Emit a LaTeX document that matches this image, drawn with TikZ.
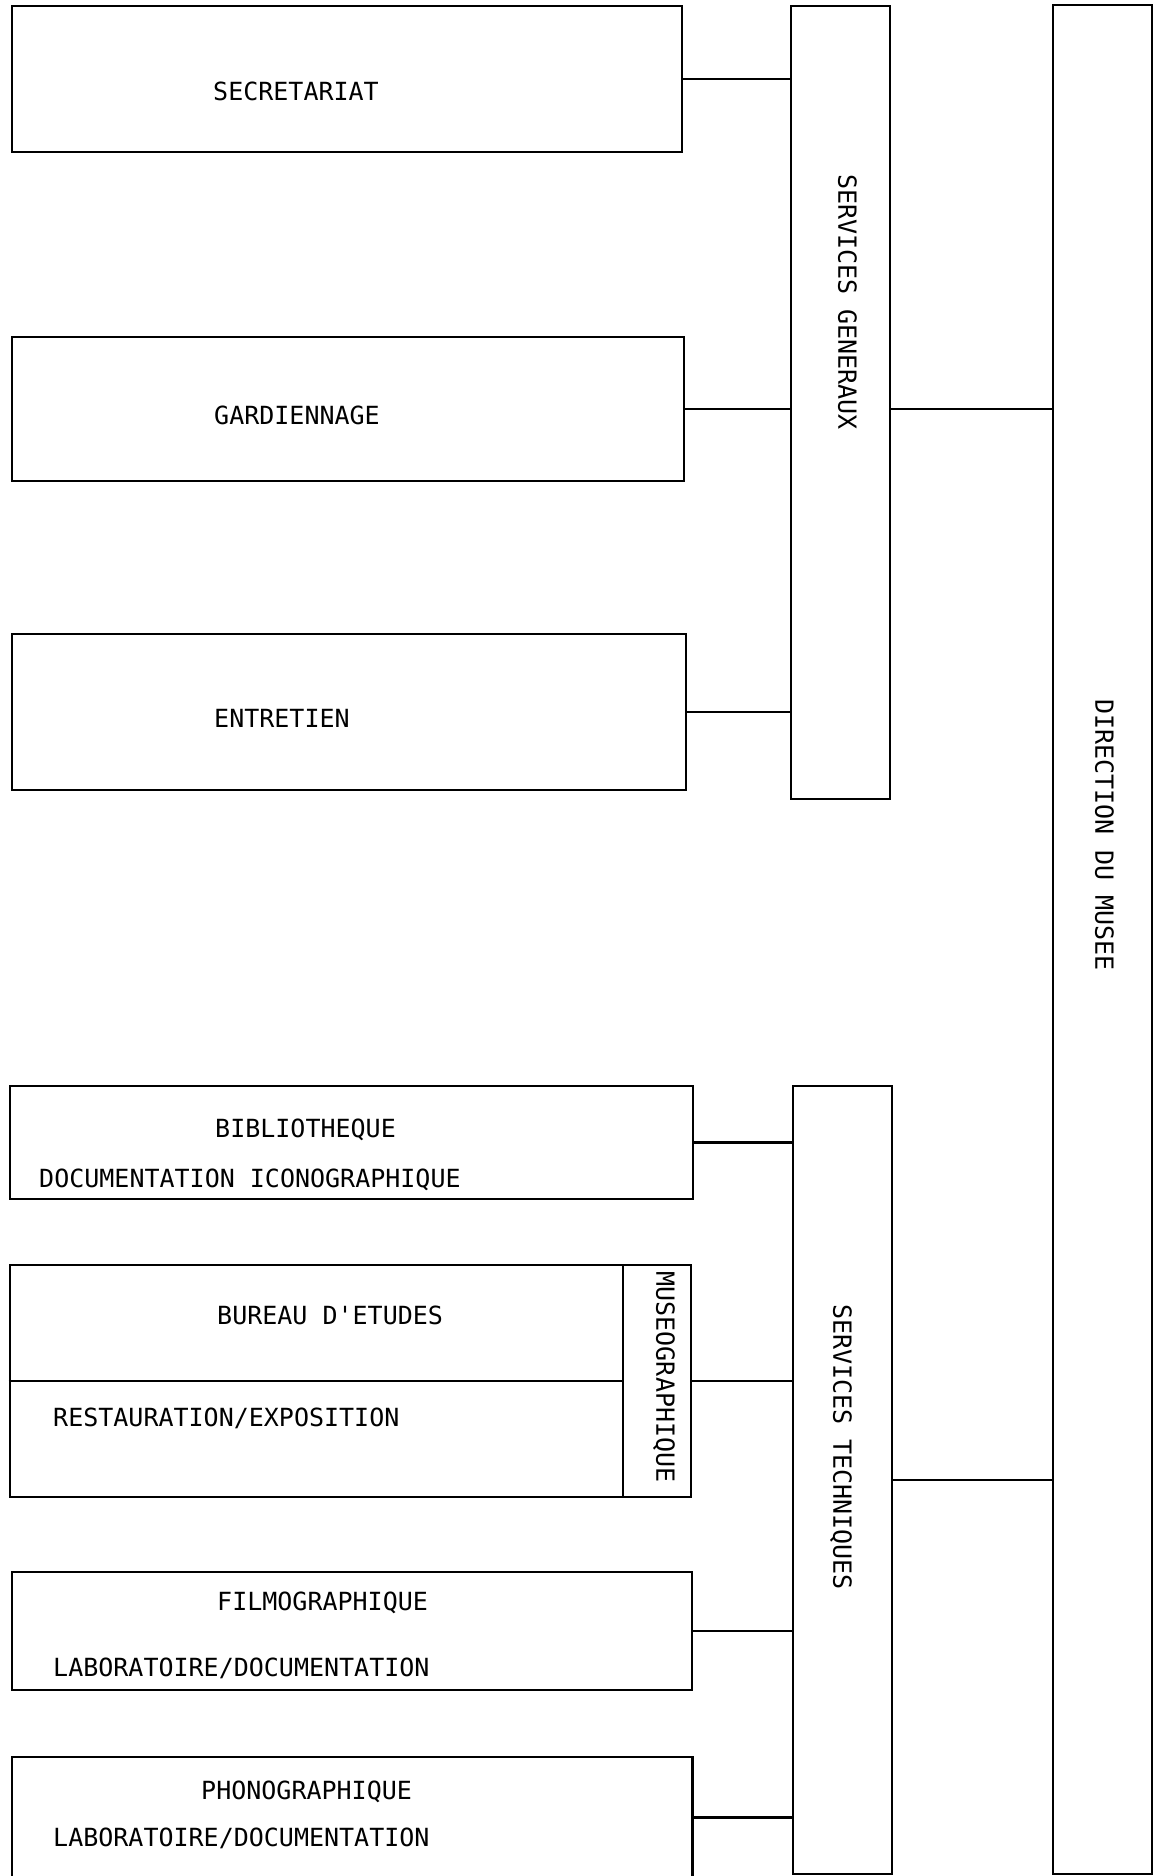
\documentclass[tikz,border=0pt]{standalone}
\usepackage{fontspec}
\setmonofont{DejaVu Sans Mono}
\begin{document}
\begin{tikzpicture}[x=1pt,y=-1pt,
  box/.style={draw,line width=2.6pt,inner sep=0pt,minimum width=#1},
  lbl/.style={font=\ttfamily\fontsize{25}{30}\selectfont,inner sep=0pt,text height=0.73em,text depth=0pt},
  vlbl/.style={lbl,rotate=-90},
  con/.style={line width=2.6pt}]
\useasboundingbox[fill=white] (0,0) rectangle (1156,1876);
% upper group
\node[box=670pt,minimum height=146pt] (sec) at (347,79) {};
\node[box=672pt,minimum height=144pt] (gard) at (348,409) {};
\node[box=674pt,minimum height=156pt] (ent) at (349,712) {};
\node[box=99pt,minimum height=793pt] (sg) at (840.5,402.5) {};
\node[box=99pt,minimum height=1869pt] (dir) at (1102.5,939.5) {};
% lower group
\node[box=683pt,minimum height=113pt] (bib) at (351.5,1142.5) {};
\node[box=681pt,minimum height=232pt] (mus) at (350.5,1381) {};
\node[box=68pt,minimum height=232pt] (muslab) at (657,1381) {};
\node[box=680pt,minimum height=118pt] (film) at (352,1631) {};
\node[draw=none,inner sep=0pt,minimum width=680pt,minimum height=121pt] (phono) at (352,1817.5) {};
\draw[con] (phono.south west) -- (phono.north west) -- (phono.north east) -- (phono.south east);
\node[box=99pt,minimum height=788pt] (st) at (842.5,1480) {};
% labels
\node[lbl,anchor=west] (tsec) at (213,97) {SECRETARIAT};
\node[lbl,anchor=west] (tgard) at (214,421) {GARDIENNAGE};
\node[lbl,anchor=west] (tent) at (214,724) {ENTRETIEN};
\node[vlbl] (tsg) at (842,302) {SERVICES GENERAUX};
\node[vlbl] (tdir) at (1099,835) {DIRECTION DU MUSEE};
\node[lbl,anchor=west] (tbib1) at (215,1134) {BIBLIOTHEQUE};
\node[lbl,anchor=west] (tbib2) at (39,1184) {DOCUMENTATION ICONOGRAPHIQUE};
\node[lbl,anchor=west] (tmus1) at (217,1321) {BUREAU D'ETUDES};
\node[lbl,anchor=west] (tmus2) at (53,1423) {RESTAURATION/EXPOSITION};
\node[vlbl] (tmus3) at (660,1377) {MUSEOGRAPHIQUE};
\node[lbl,anchor=west] (tfilm1) at (217,1607) {FILMOGRAPHIQUE};
\node[lbl,anchor=west] (tfilm2) at (53,1673) {LABORATOIRE/DOCUMENTATION};
\node[lbl,anchor=west] (tph1) at (201,1796) {PHONOGRAPHIQUE};
\node[lbl,anchor=west] (tph2) at (53,1843) {LABORATOIRE/DOCUMENTATION};
\node[vlbl] (tst) at (837,1447) {SERVICES TECHNIQUES};
% connectors
\draw[con] (sec.east) -- (sec.east -| sg.west);
\draw[con] (gard.east) -- (gard.east -| sg.west);
\draw[con] (ent.east) -- (ent.east -| sg.west);
\draw[con] (sg.east |- gard.east) -- (dir.west |- gard.east);
\draw[con] (mus.west) -- (muslab.west);
\draw[con] (bib.east) -- (bib.east -| st.west);
\draw[con] (mus.east) -- (mus.east -| st.west);
\draw[con] (film.east) -- (film.east -| st.west);
\draw[con] (phono.east) -- (phono.east -| st.west);
\draw[con] (st.east) -- (st.east -| dir.west);
\end{tikzpicture}
\end{document}
